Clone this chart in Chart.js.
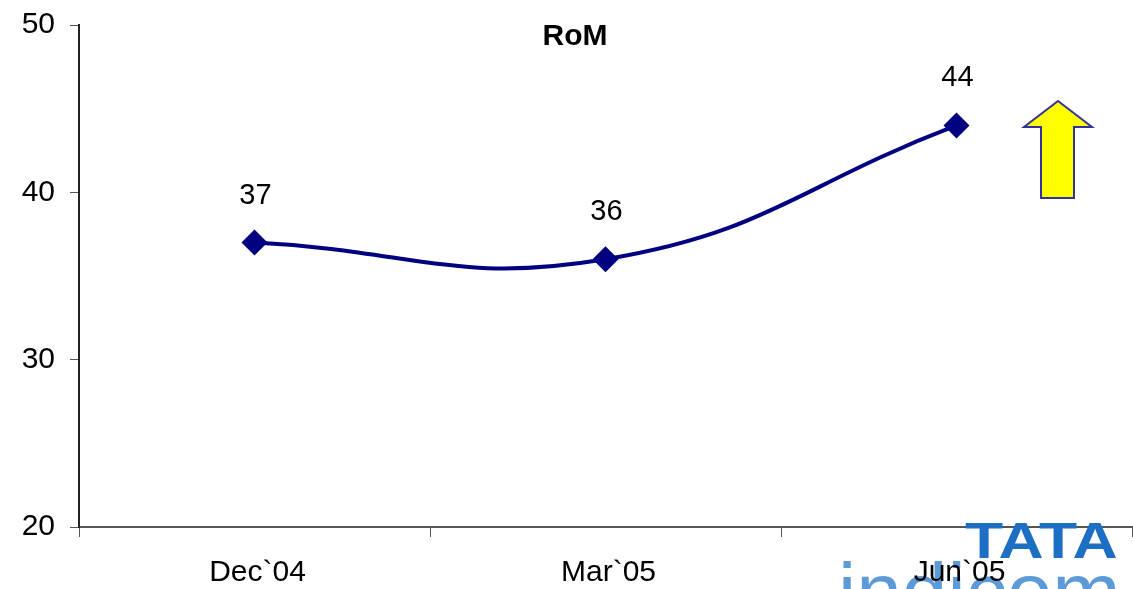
<!DOCTYPE html>
<html>
<head>
<meta charset="utf-8">
<script src="https://cdn.jsdelivr.net/npm/chart.js@4.4.0/dist/chart.umd.min.js"></script>
<style>
html, body { margin: 0; padding: 0; background: #fff; overflow: hidden; }
#wrap { width: 1133px; height: 589px; position: relative; }
</style>
</head>
<body>
<div id="wrap"><canvas id="romChart" width="1133" height="589"></canvas></div>
<script>
// chart values
var categories = ["Dec`04", "Mar`05", "Jun`05"];
var romValues = [37, 36, 44];
var yTicks = [20, 30, 40, 50];
var chartTitle = "RoM";

var FONT = "Arial, 'Liberation Sans', sans-serif";

// title, value labels, x labels, arrow and logo are drawn on top
var extrasPlugin = {
	id: "extras",
	afterDatasetsDraw: function(chart) {
		var ctx = chart.ctx;
		var area = chart.chartArea;
		var meta = chart.getDatasetMeta(0);

		ctx.save();
		ctx.fillStyle = "#000";
		ctx.textAlign = "center";
		ctx.textBaseline = "middle";

		// title
		ctx.font = "bold 30px " + FONT;
		ctx.fillText(chartTitle, 575, area.top + 12);

		// value labels
		ctx.font = "29px " + FONT;
		meta.data.forEach(function(pt, i) {
			ctx.fillText(String(romValues[i]), pt.x + 1, pt.y - 47);
		});

		// yellow up arrow
		var ax = area.right - 74, top = area.top + 76;
		ctx.beginPath();
		ctx.moveTo(ax, top);
		ctx.lineTo(ax + 34, top + 26);
		ctx.lineTo(ax + 16, top + 26);
		ctx.lineTo(ax + 16, top + 97);
		ctx.lineTo(ax - 17, top + 97);
		ctx.lineTo(ax - 17, top + 26);
		ctx.lineTo(ax - 34, top + 26);
		ctx.closePath();
		ctx.fillStyle = "#ffff00";
		ctx.fill();
		ctx.lineWidth = 2;
		ctx.strokeStyle = "#33339a";
		ctx.stroke();

		// logo
		ctx.textAlign = "left";
		ctx.textBaseline = "alphabetic";
		ctx.fillStyle = "#1c6fc2";
		ctx.font = "900 50px " + FONT;
		ctx.save();
		ctx.translate(965, 558);
		ctx.scale(1.25, 1);
		ctx.fillText("TATA", 0, 0);
		ctx.restore();
		ctx.fillStyle = "#5c9ad8";
		ctx.font = "82px " + FONT;
		ctx.fillText("indicom", 838, 620);

		// x labels, above the logo
		ctx.fillStyle = "#000";
		ctx.font = "30px " + FONT;
		ctx.textAlign = "center";
		ctx.textBaseline = "middle";
		var xs = chart.scales.x;
		categories.forEach(function(c, i) {
			ctx.fillText(c, xs.getPixelForValue(i) + 3, 573);
		});
		ctx.restore();
	}
};

new Chart(document.getElementById("romChart"), {
	type: "line",
	data: {
		labels: categories,
		datasets: [{
			data: romValues,
			borderColor: "#000080",
			backgroundColor: "#000080",
			borderWidth: 4,
			tension: 0.45,
			pointStyle: "rectRot",
			pointRadius: 13,
			pointHoverRadius: 13,
			pointBorderWidth: 0
		}]
	},
	options: {
		responsive: false,
		animation: false,
		events: [],
		layout: { autoPadding: false, padding: { top: 25, right: 1, left: 0, bottom: 0 } },
		plugins: {
			legend: { display: false },
			tooltip: { enabled: false }
		},
		scales: {
			x: {
				offset: true,
				grid: {
					offset: true,
					drawOnChartArea: false,
					drawTicks: true,
					tickLength: 10,
					color: "#555"
				},
				border: { color: "#555", width: 2 },
				ticks: { display: false },
				afterFit: function(scale) {
					scale.height = 62;
				}
			},
			y: {
				min: 20,
				max: 50,
				afterBuildTicks: function(scale) {
					scale.ticks = yTicks.map(function(v) { return { value: v }; });
				},
				grid: {
					drawOnChartArea: false,
					drawTicks: true,
					tickLength: 9,
					color: "#555"
				},
				border: { color: "#222", width: 2 },
				ticks: { color: "#000", font: { size: 30, family: FONT }, padding: 15 },
				afterFit: function(scale) {
					scale.width = 79;
					scale.paddingTop = 0;
					scale.paddingBottom = 0;
				}
			}
		}
	},
	plugins: [extrasPlugin]
});
</script>
</body>
</html>
